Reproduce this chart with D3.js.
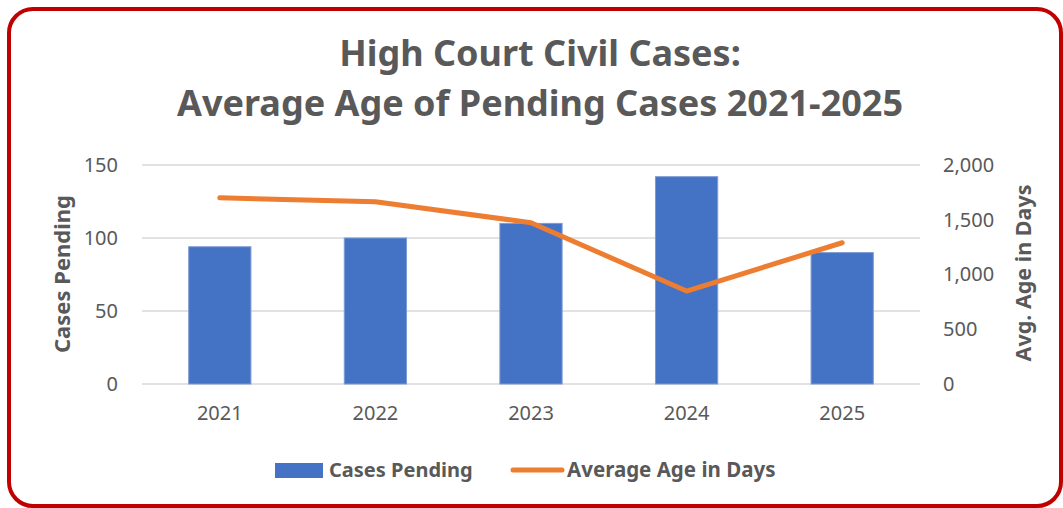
<!DOCTYPE html>
<html>
<head>
<meta charset="utf-8">
<script src="https://cdn.jsdelivr.net/npm/d3@7"></script>
<style>
  body { margin: 0; background: #fff; }
  text { font-family: "Noto Sans", "Open Sans", sans-serif; }
</style>
</head>
<body>
<div id="chart-area"></div>
<script>
const YEARS = ["2021", "2022", "2023", "2024", "2025"]
const CASES_PENDING = [94, 100, 110, 142, 90]
const AVG_AGE_DAYS = [1700, 1665, 1473, 849, 1290]
const LEFT_TICKS = [0, 50, 100, 150]
const RIGHT_TICKS = [0, 500, 1000, 1500, 2000]

const SVG_WIDTH = 1063
const SVG_HEIGHT = 508
const PLOT = { left: 142, right: 920, top: 165, bottom: 384 }
const TEXT_GREY = "#595959"

const svg = d3.select("#chart-area").append("svg")
  .attr("width", SVG_WIDTH)
  .attr("height", SVG_HEIGHT)

// red rounded frame
svg.append("rect")
  .attr("x", 9).attr("y", 9)
  .attr("width", 1052).attr("height", 497)
  .attr("rx", 24).attr("ry", 24)
  .attr("fill", "#fff")
  .attr("stroke", "#C00000")
  .attr("stroke-width", 4)

// title
const title = svg.append("text")
  .attr("text-anchor", "middle")
  .attr("font-size", "36px")
  .attr("font-weight", "bold")
  .attr("fill", TEXT_GREY)
title.append("tspan").attr("x", 540).attr("y", 66).text("High Court Civil Cases:")
title.append("tspan").attr("x", 540).attr("y", 116).text("Average Age of Pending Cases 2021-2025")

const x = d3.scaleBand()
  .domain(YEARS)
  .range([PLOT.left, PLOT.right])
  .paddingInner(0.6)
  .paddingOuter(0.3)

const xCenter = d3.scaleBand()
  .domain(YEARS)
  .range([PLOT.left, PLOT.right])

const yLeft = d3.scaleLinear()
  .domain([0, 150])
  .range([PLOT.bottom, PLOT.top])

const yRight = d3.scaleLinear()
  .domain([0, 2000])
  .range([PLOT.bottom, PLOT.top])

// gridlines
svg.append("g")
  .selectAll("line")
  .data(LEFT_TICKS)
  .enter().append("line")
  .attr("x1", PLOT.left).attr("x2", PLOT.right)
  .attr("y1", d => yLeft(d)).attr("y2", d => yLeft(d))
  .attr("stroke", "#d9d9d9")
  .attr("stroke-width", 1.5)

// left axis
const leftAxis = svg.append("g")
  .attr("transform", `translate(${PLOT.left - 24}, 0)`)
  .call(d3.axisLeft(yLeft).tickValues(LEFT_TICKS).tickSize(0).tickPadding(0))
leftAxis.select(".domain").remove()
leftAxis.selectAll("text")
  .attr("font-size", "20px")
  .attr("fill", TEXT_GREY)
  .attr("font-family", "Noto Sans")

// right axis
const rightAxis = svg.append("g")
  .attr("transform", `translate(${PLOT.right + 23}, 0)`)
  .call(d3.axisRight(yRight).tickValues(RIGHT_TICKS).tickSize(0).tickPadding(0).tickFormat(d3.format(",")))
rightAxis.select(".domain").remove()
rightAxis.selectAll("text")
  .attr("font-size", "20px")
  .attr("fill", TEXT_GREY)
  .attr("font-family", "Noto Sans")

// x axis
const xAxis = svg.append("g")
  .attr("transform", `translate(0, ${PLOT.bottom})`)
  .call(d3.axisBottom(xCenter).tickSize(0).tickPadding(22))
xAxis.select(".domain").remove()
xAxis.selectAll("text")
  .attr("font-size", "20px")
  .attr("fill", TEXT_GREY)
  .attr("font-family", "Noto Sans")

// axis titles
svg.append("text")
  .attr("transform", "translate(70, 274) rotate(-90)")
  .attr("text-anchor", "middle")
  .attr("font-size", "22px")
  .attr("font-weight", "bold")
  .attr("fill", TEXT_GREY)
  .text("Cases Pending")

svg.append("text")
  .attr("transform", "translate(1031, 273) rotate(-90)")
  .attr("text-anchor", "middle")
  .attr("font-size", "21.5px")
  .attr("font-weight", "bold")
  .attr("fill", TEXT_GREY)
  .text("Avg. Age in Days")

// bars
svg.append("g")
  .selectAll("rect")
  .data(YEARS)
  .enter().append("rect")
  .attr("x", d => x(d))
  .attr("y", (d, i) => yLeft(CASES_PENDING[i]))
  .attr("width", x.bandwidth())
  .attr("height", (d, i) => yLeft(0) - yLeft(CASES_PENDING[i]))
  .attr("fill", "#4472C4")
  .attr("stroke", "#7d9bd3")
  .attr("stroke-width", 1)

// line
const line = d3.line()
  .x((d, i) => xCenter(YEARS[i]) + xCenter.bandwidth() / 2)
  .y(d => yRight(d))

svg.append("path")
  .datum(AVG_AGE_DAYS)
  .attr("d", line)
  .attr("fill", "none")
  .attr("stroke", "#ED7D31")
  .attr("stroke-width", 5)
  .attr("stroke-linecap", "round")
  .attr("stroke-linejoin", "round")

// legend
const legend = svg.append("g")
legend.append("rect")
  .attr("x", 275).attr("y", 463)
  .attr("width", 48).attr("height", 15)
  .attr("fill", "#4472C4")
legend.append("text")
  .attr("x", 329).attr("y", 477)
  .attr("font-size", "20px")
  .attr("font-weight", "bold")
  .attr("fill", TEXT_GREY)
  .text("Cases Pending")
legend.append("line")
  .attr("x1", 513).attr("x2", 562)
  .attr("y1", 470).attr("y2", 470)
  .attr("stroke", "#ED7D31")
  .attr("stroke-width", 5)
  .attr("stroke-linecap", "round")
legend.append("text")
  .attr("x", 567).attr("y", 477)
  .attr("font-size", "20.5px")
  .attr("font-weight", "bold")
  .attr("fill", TEXT_GREY)
  .text("Average Age in Days")
</script>
</body>
</html>
